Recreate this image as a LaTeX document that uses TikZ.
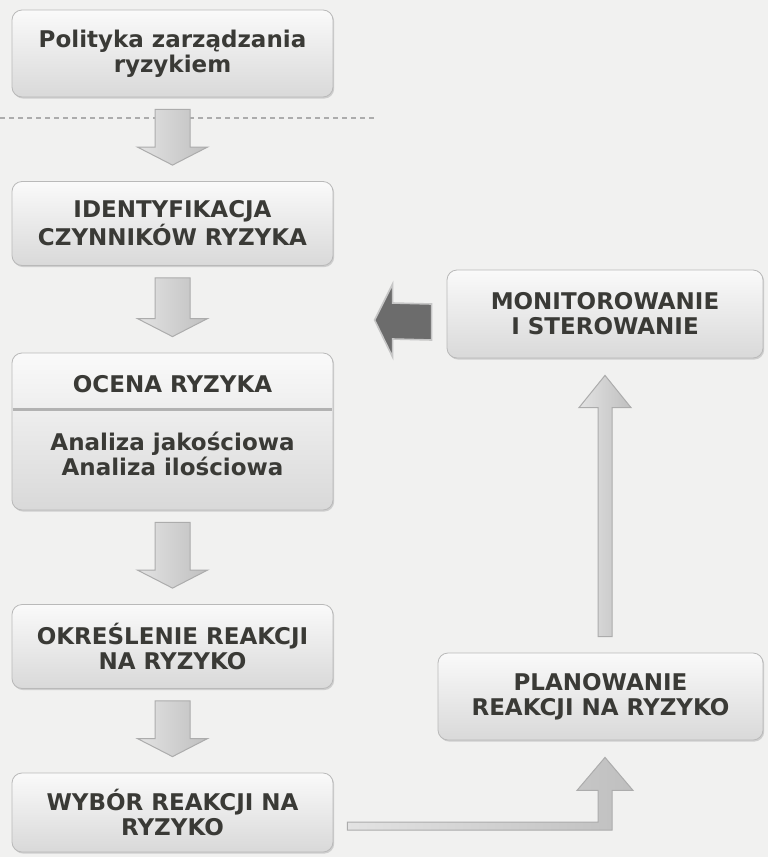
\documentclass[tikz,border=0pt]{standalone}
\usepackage{fontspec}
\setmainfont{DejaVu Sans}
\usepackage{tikz}
\usetikzlibrary{positioning}
\usetikzlibrary{calc}
\usetikzlibrary{shadows}
\definecolor{txtgray}{HTML}{3A3A36}
\definecolor{pagegray}{HTML}{F1F1F0}
\newcommand\boxfont{\fontsize{11.5}{12.5}\selectfont\bfseries}
\tikzset{
% stage boxes and fat arrows
stage/.style={rectangle, rounded corners=5pt, draw=gray!55, top color=gray!4, bottom color=gray!30,
  minimum width=160.5pt, minimum height=42pt, align=center, font=\boxfont, text=txtgray,
  drop shadow={opacity=0.3, shadow xshift=0.6pt, shadow yshift=-0.8pt}},
stagetext/.style={align=center, font=\boxfont, text=txtgray, inner sep=0},
fatarrow/.style={draw=gray!65, line width=0.5pt, left color=gray!22, right color=gray!50},
darkarrow/.style={draw=gray!45, line width=0.8pt, fill=gray!85!black}
}
% down arrow between two stage boxes
\newcommand\stagearrow[2]{%
  \path[fatarrow] ($(#1.south)+(-17.5,-12)$) -- ($(#1.south)+(17.5,-12)$)
    -- ($(#2.north)+(17.5,34)$) -- ($(#2.north)+(35,34)$) -- ($(#2.north)+(0,16)$)
    -- ($(#2.north)+(-35,34)$) -- ($(#2.north)+(-17.5,34)$) -- cycle;}

\begin{document}
\begin{tikzpicture}[x=0.5pt, y=0.5pt]
  \fill[pagegray] (0,0) rectangle (768,-857);
  \useasboundingbox (0,0) rectangle (768,-857);

  \node[stage, minimum height=43.5pt] (pol) at (172.5,-53.5) {Polityka zarządzania\\ryzykiem};
  \draw[gray!65, line width=0.6pt, dash pattern=on 2.5pt off 2pt] (0,-118) -- (377,-118);
  \node[stage] (ident) at (172.5,-223.5) {IDENTYFIKACJA\\CZYNNIKÓW RYZYKA};
  \node[stage, minimum height=78.5pt] (ocena) at (172.5,-431.5) {};
  \node[stagetext] (ocenahd) at ($(ocena.north)+(0,-32)$) {OCENA RYZYKA};
  \draw[gray!60, line width=1.5pt] ($(ocena.north west)+(1,-57)$) -- ($(ocena.north east)+(-1,-57)$);
  \node[stagetext] (analiza) at ($(ocena.north)+(0,-101)$) {Analiza jakościowa\\Analiza ilościowa};
  \node[stage] (okr) at (172.5,-646.5) {OKREŚLENIE REAKCJI\\NA RYZYKO};
  \node[stage, minimum height=39.5pt] (wyb) at (172.5,-812.5) {WYBÓR REAKCJI NA\\RYZYKO};

  \node[stage, minimum width=158pt, minimum height=44pt] (mon) at (605,-314) {MONITOROWANIE\\I STEROWANIE};
  \node[stage, minimum width=162.5pt, minimum height=43.5pt] (plan) at (600.5,-696.5) {PLANOWANIE\\REAKCJI NA RYZYKO};

  \stagearrow{pol}{ident}
  \stagearrow{ident}{ocena}
  \stagearrow{ocena}{okr}
  \stagearrow{okr}{wyb}

  % feedback from monitoring
  \coordinate (fb) at ($(mon.west)+(-72,-6)$);
  \path[darkarrow] ($(mon.west)+(-15,-26)$) -- ($(mon.west)+(-15,10)$) -- ($(fb)+(18,17)$)
    -- ($(fb)+(18,36)$) -- (fb) -- ($(fb)+(18,-37)$) -- ($(fb)+(18,-19)$) -- cycle;

  % plan -> monitoring
  \coordinate (pn) at (mon.south |- plan.north);
  \path[fatarrow] ($(pn)+(-7,16)$) -- ($(pn)+(-7,245)$) -- ($(pn)+(-26,245)$) -- ($(mon.south)+(0,-17)$)
    -- ($(pn)+(26,245)$) -- ($(pn)+(7,245)$) -- ($(pn)+(7,16)$) -- cycle;

  % choice -> plan
  \coordinate (ps) at (mon.south |- plan.south);
  \coordinate (wb) at ($(wyb.east)+(14,-13.5)$);
  \path[fatarrow] ($(wb)+(0,4)$) -- ($(wb -| ps)+(-7,4)$) -- ($(ps)+(-7,-50)$) -- ($(ps)+(-28,-50)$)
    -- ($(ps)+(0,-17)$) -- ($(ps)+(28,-50)$) -- ($(ps)+(7,-50)$) -- ($(wb -| ps)+(7,-4)$)
    -- ($(wb)+(0,-4)$) -- cycle;
\end{tikzpicture}
\end{document}
